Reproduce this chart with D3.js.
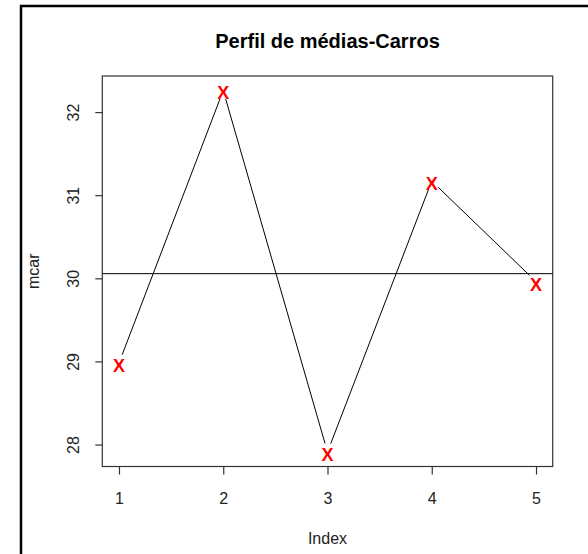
<!DOCTYPE html>
<html>
<head>
<meta charset="utf-8">
<script src="https://cdn.jsdelivr.net/npm/d3@7"></script>
<style>
  html, body { margin: 0; padding: 0; background: #fff; }
  svg { display: block; font-family: "Liberation Sans", Arial, sans-serif; }
</style>
</head>
<body>
<svg id="chart" width="588" height="554"></svg>
<script>
// Mean profile per index
const indexes = [1, 2, 3, 4, 5];
const mcar = [28.98, 32.26, 27.91, 31.17, 29.96];
const yTicks = [28, 29, 30, 31, 32];
const xTicks = [1, 2, 3, 4, 5];
const title = "Perfil de médias-Carros";
const xLabel = "Index";
const yLabel = "mcar";

const svg = d3.select("#chart");

// plotting region
const box = { left: 102.3, right: 552.7, top: 76, bottom: 466.5 };

// outer frame (left and top edges)
svg.append("path")
  .attr("d", "M21,554 L21,6 L588,6")
  .attr("fill", "none")
  .attr("stroke", "#000")
  .attr("stroke-width", 2.5);

// R-style 4% padding around the data range
const pad = (lo, hi) => { const r = hi - lo; return [lo - 0.04 * r, hi + 0.04 * r]; };
const x = d3.scaleLinear().domain(pad(d3.min(indexes), d3.max(indexes))).range([box.left, box.right]);
const y = d3.scaleLinear().domain(pad(d3.min(mcar), d3.max(mcar))).range([box.bottom, box.top]);

const pts = indexes.map((d, i) => [x(d), y(mcar[i])]);

// box
svg.append("rect")
  .attr("x", box.left).attr("y", box.top)
  .attr("width", box.right - box.left).attr("height", box.bottom - box.top)
  .attr("fill", "none").attr("stroke", "#333").attr("stroke-width", 1.2);

// axes
const yAxis = svg.append("g")
  .attr("transform", `translate(${box.left},0)`)
  .call(d3.axisLeft(y).tickValues(yTicks).tickSize(7).tickPadding(0).tickFormat(d3.format("d")));
yAxis.select(".domain").remove();
yAxis.selectAll(".tick line").attr("stroke", "#333").attr("stroke-width", 1.2);
yAxis.selectAll(".tick text")
  .attr("x", null).attr("dy", null)
  .attr("transform", "translate(-23,0) rotate(-90)")
  .attr("text-anchor", "middle")
  .attr("font-size", 16)
  .attr("font-family", "Liberation Sans, Arial, sans-serif")
  .attr("fill", "#222");

const xAxis = svg.append("g")
  .attr("transform", `translate(0,${box.bottom})`)
  .call(d3.axisBottom(x).tickValues(xTicks).tickSize(8).tickPadding(0).tickFormat(d3.format("d")));
xAxis.select(".domain").remove();
xAxis.selectAll(".tick line").attr("stroke", "#333").attr("stroke-width", 1.2);
xAxis.selectAll(".tick text")
  .attr("y", 37).attr("dy", null)
  .attr("font-size", 16)
  .attr("font-family", "Liberation Sans, Arial, sans-serif")
  .attr("fill", "#222");

// mean reference line
const mean = d3.mean(mcar);
svg.append("line")
  .attr("x1", box.left).attr("x2", box.right)
  .attr("y1", y(mean)).attr("y2", y(mean))
  .attr("stroke", "#000").attr("stroke-width", 1);

// connecting segments with gaps around each point
const gap = 9;
const segs = d3.pairs(pts).map(([a, b]) => {
  const dx = b[0] - a[0], dy = b[1] - a[1], L = Math.hypot(dx, dy);
  const ux = dx / L, uy = dy / L;
  return [[a[0] + ux * gap, a[1] + uy * gap], [b[0] - ux * gap, b[1] - uy * gap]];
});
svg.append("g").selectAll("line").data(segs).join("line")
  .attr("x1", d => d[0][0]).attr("y1", d => d[0][1])
  .attr("x2", d => d[1][0]).attr("y2", d => d[1][1])
  .attr("stroke", "#000").attr("stroke-width", 1);

// point symbols
svg.append("g").selectAll("text").data(pts).join("text")
  .attr("x", d => d[0]).attr("y", d => d[1] + 9)
  .attr("text-anchor", "middle")
  .attr("font-size", 18)
  .attr("font-weight", "bold")
  .attr("fill", "#ff0000")
  .text("X");

// titles
svg.append("text")
  .attr("x", (box.left + box.right) / 2).attr("y", 48)
  .attr("text-anchor", "middle")
  .attr("font-size", 20).attr("font-weight", "bold")
  .attr("fill", "#000")
  .text(title);

svg.append("text")
  .attr("x", (box.left + box.right) / 2).attr("y", 544)
  .attr("text-anchor", "middle")
  .attr("font-size", 16).attr("fill", "#222")
  .text(xLabel);

svg.append("text")
  .attr("transform", `translate(39,${(box.top + box.bottom) / 2}) rotate(-90)`)
  .attr("text-anchor", "middle")
  .attr("font-size", 16).attr("fill", "#222")
  .text(yLabel);
</script>
</body>
</html>
